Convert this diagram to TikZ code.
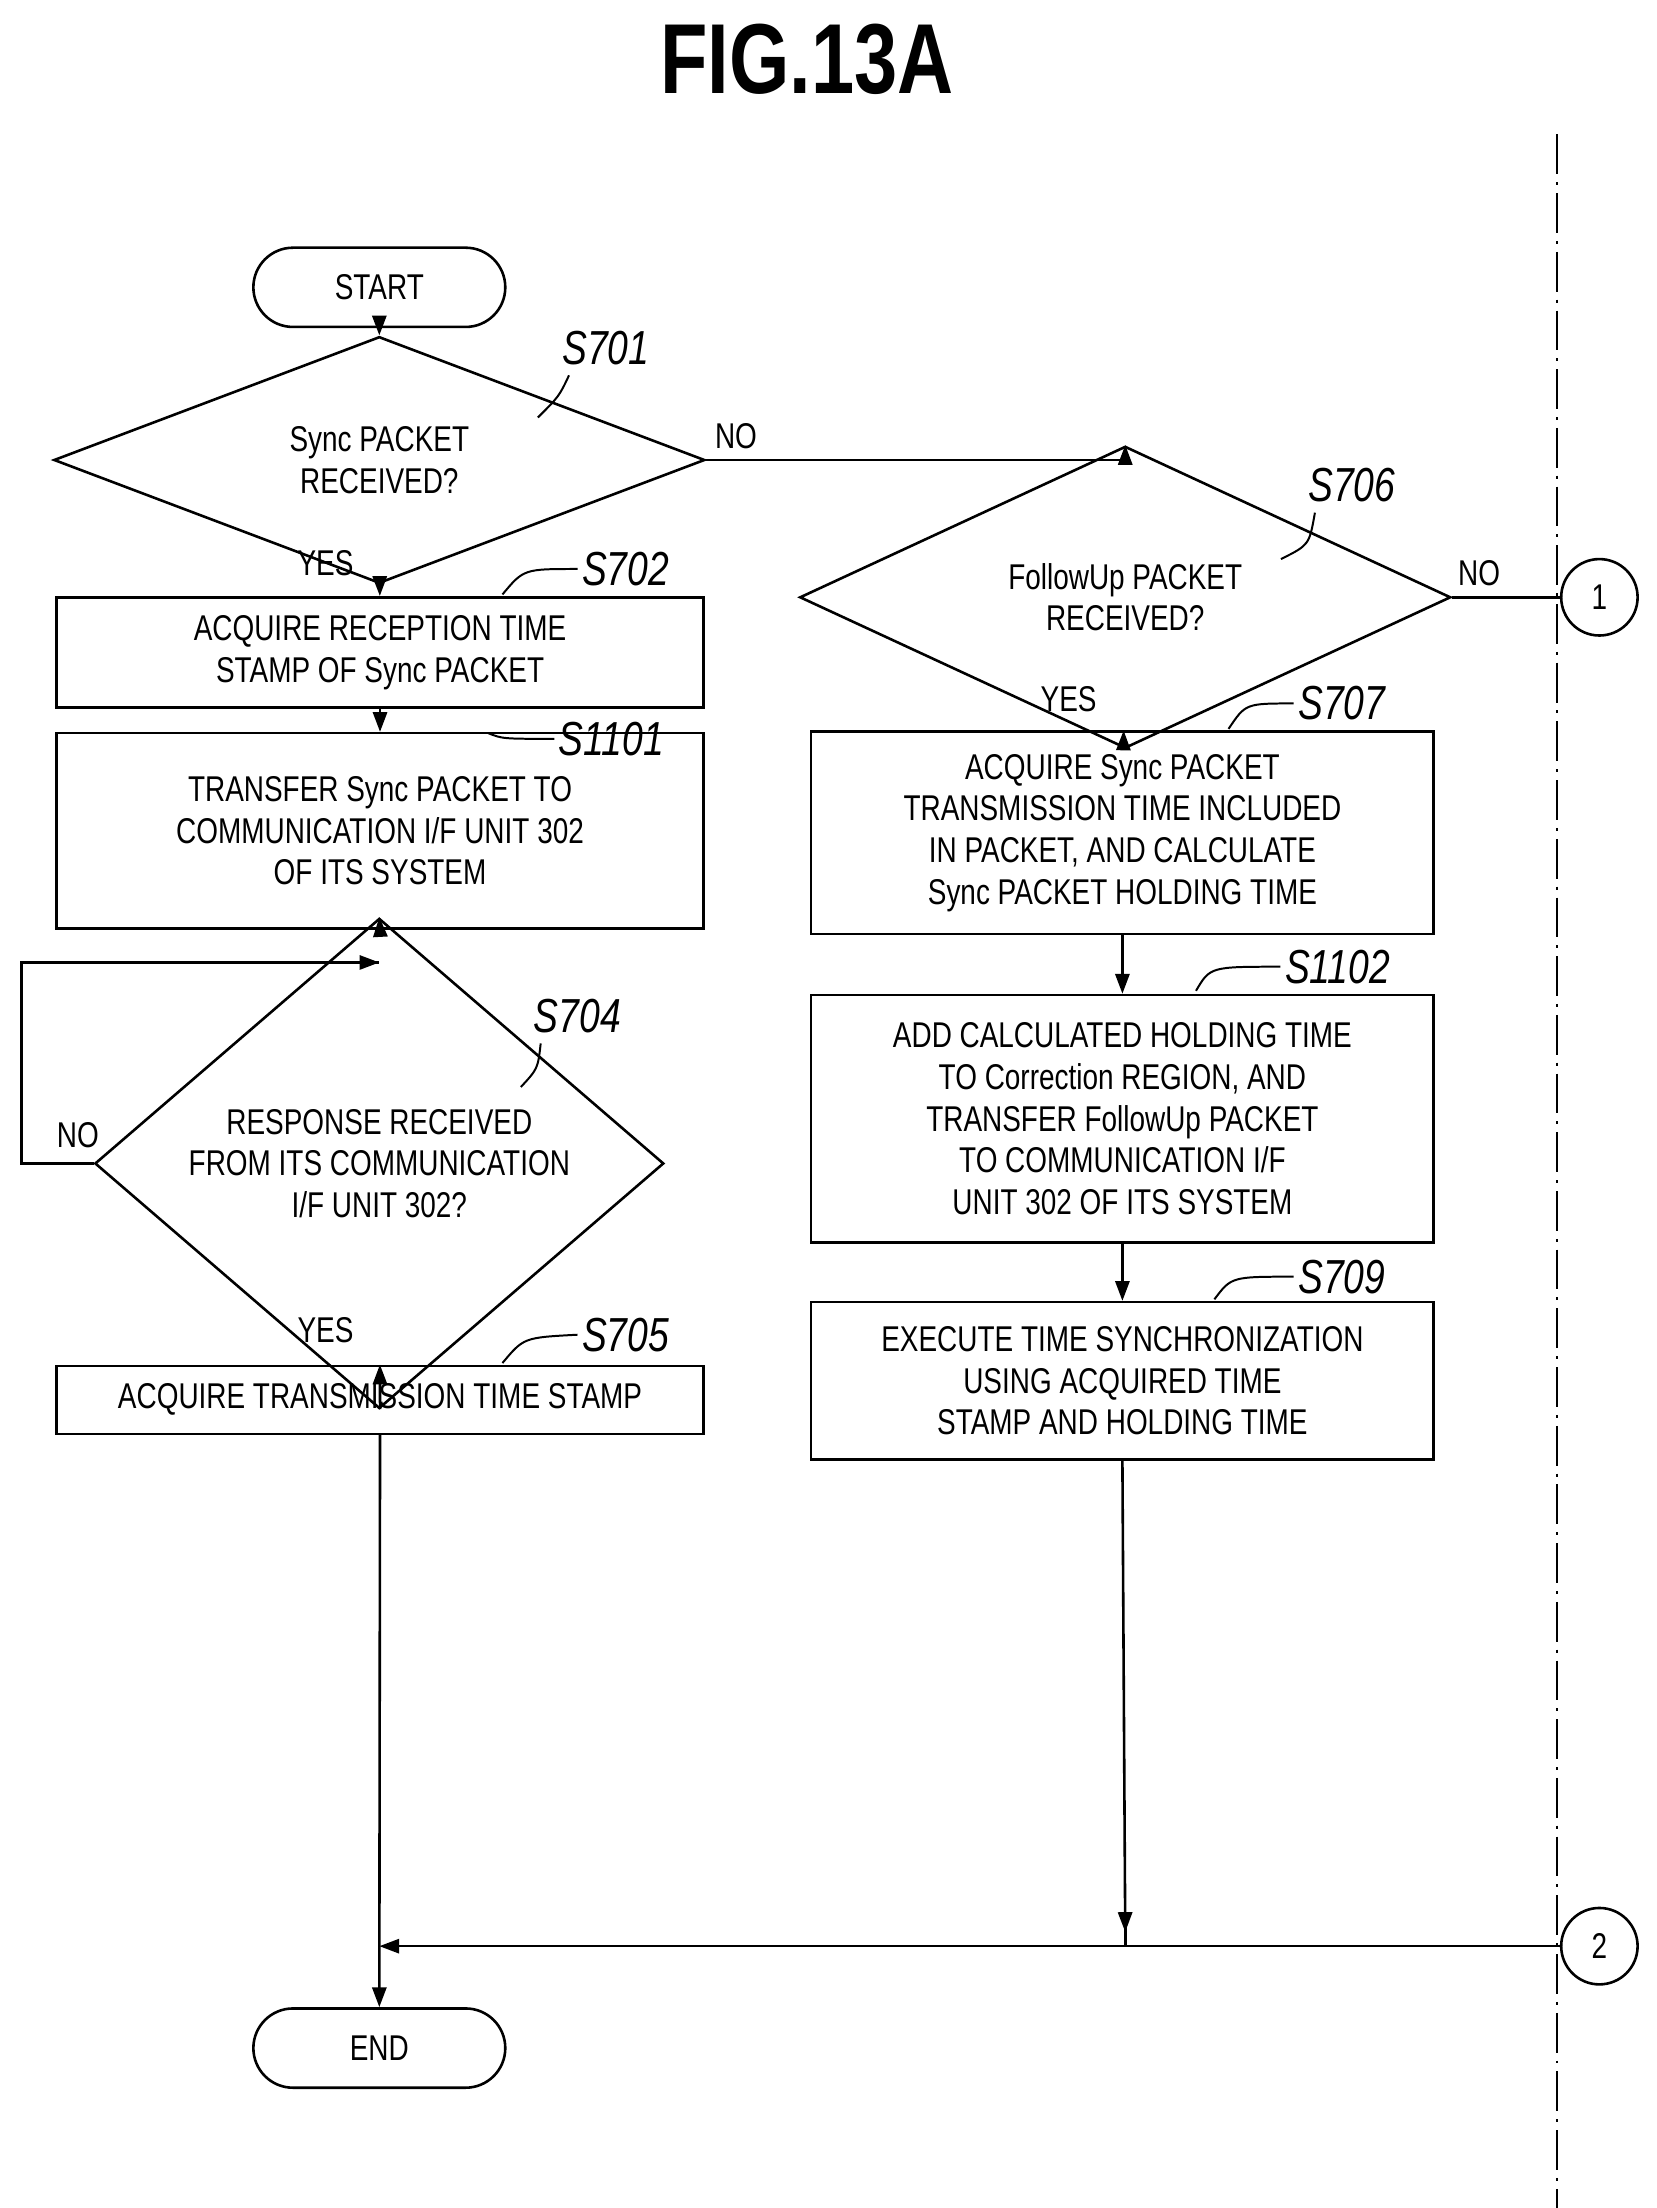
\documentclass[tikz,border=0pt]{standalone}
\usepackage{fontspec}
\setmainfont{Liberation Sans}[FakeStretch=0.78]
\usetikzlibrary{shapes.geometric,arrows.meta}
\begin{document}
\begin{tikzpicture}[x=0.05cm,y=-0.05cm,
  line width=2.6pt,
  txt/.style={font=\fontsize{36}{42}\selectfont,align=center},
  box/.style={draw,txt,inner sep=0pt},
  term/.style={draw,txt,rounded corners=1.4cm,minimum width=8.9cm,minimum height=2.8cm},
  dia/.style={draw,diamond,txt,inner sep=0pt},
  conn/.style={draw,circle,minimum size=2.7cm,txt,inner sep=0pt},
  lab/.style={font=\fontsize{48}{50}\selectfont\itshape},
  yn/.style={font=\fontsize{36}{40}\selectfont},
  arr/.style={-{Triangle[length=0.7cm,width=0.5cm]}},
  lead/.style={line width=2pt}]
\useasboundingbox (0,0) rectangle (1170,1560);
\node[font=\fontsize{100}{110}\selectfont\bfseries] (title) at (570,42) {FIG.13A};
\draw[dash pattern=on 40pt off 8pt on 3pt off 8pt,line width=2pt] (1100,95) -- (1100,1560);

\node[term] (start) at (268,203) {START};
\node[dia,minimum width=23cm,minimum height=5.2cm] (s701) at (268,325) {Sync PACKET\\RECEIVED?};
\node[box,minimum width=22.85cm,minimum height=3.9cm] (s702) at (268.5,461) {ACQUIRE RECEPTION TIME\\STAMP OF Sync PACKET};
\node[box,minimum width=22.85cm,minimum height=6.9cm] (s1101) at (268.5,587) {TRANSFER Sync PACKET TO\\COMMUNICATION I/F UNIT 302\\OF ITS SYSTEM};
\node[dia,minimum width=20.1cm,minimum height=9.65cm] (s704) at (268,822) {RESPONSE RECEIVED\\FROM ITS COMMUNICATION\\I/F UNIT 302?};
\node[box,minimum width=22.85cm,minimum height=2.4cm] (s705) at (268.5,989) {ACQUIRE TRANSMISSION TIME STAMP};
\node[term] (end) at (268,1447) {END};

\node[dia,minimum width=23cm,minimum height=5.2cm] (s706) at (795,422) {FollowUp PACKET\\RECEIVED?};
\node[box,minimum width=22cm,minimum height=7.15cm] (s707) at (793,588.5) {ACQUIRE Sync PACKET\\TRANSMISSION TIME INCLUDED\\IN PACKET, AND CALCULATE\\Sync PACKET HOLDING TIME};
\node[box,minimum width=22cm,minimum height=8.75cm] (s1102) at (793,790.5) {ADD CALCULATED HOLDING TIME\\TO Correction REGION, AND\\TRANSFER FollowUp PACKET\\TO COMMUNICATION I/F\\UNIT 302 OF ITS SYSTEM};
\node[box,minimum width=22cm,minimum height=5.55cm] (s709) at (793,975.5) {EXECUTE TIME SYNCHRONIZATION\\USING ACQUIRED TIME\\STAMP AND HOLDING TIME};

\node[conn] (c1) at (1130,422) {1};
\node[conn] (c2) at (1130,1375) {2};
\coordinate (j1) at (795,325);
\coordinate (j2) at (795,1375);
\coordinate (j3) at (268,1375);
\coordinate (l1) at (15,822);
\coordinate (l2) at (15,680);
\coordinate (l3) at (268,680);

\draw[arr] (start) -- (s701);
\draw[arr] (s701) -- (s702);
\draw[arr] (s702) -- (s1101);
\draw[arr] (s1101.south) -- (s704.north);
\draw (s704.west) -- (l1) -- (l2) -- (l3);
\draw[arr] (l2) -- (l3);
\draw[arr] (s704) -- (s705);
\draw[arr] (s705.south) -- (end.north);
\draw[arr] (s701.east) -- (j1) -- (s706.north);
\draw (s706.east) -- (c1.west);
\draw[arr] (s706) -- (s707);
\draw[arr] (s707) -- (s1102);
\draw[arr] (s1102) -- (s709);
\draw[arr] (s709.south) -- (795,1365);
\draw (795,1362) -- (j2);
\draw[arr] (c2.west) -- (j3);

\node[yn] (no1) at (520,308) {NO};
\node[yn] (no2) at (1045,405) {NO};
\node[yn] (no3) at (55,802) {NO};
\node[yn] (yes1) at (230,398) {YES};
\node[yn] (yes2) at (230,940) {YES};
\node[yn] (yes3) at (755,494) {YES};

\node[lab] (L701) at (428,246) {S701};
\draw[lead] (L701.south west) ++(8,4) .. controls (395,280) .. (380,295);
\node[lab] (L702) at (442,402) {S702};
\draw[lead] (L702.west) .. controls (370,402) .. (355,420);
\node[lab] (L1101) at (432,522) {S1101};
\draw[lead] (L1101.west) .. controls (355,522) .. (345,518);
\node[lab] (L704) at (408,718) {S704};
\draw[lead] (L704.south west) ++(8,4) .. controls (380,755) .. (368,768);
\node[lab] (L705) at (442,943) {S705};
\draw[lead] (L705.west) .. controls (370,945) .. (355,963);
\node[lab] (L706) at (955,343) {S706};
\draw[lead] (L706.south west) ++(8,4) .. controls (925,385) .. (905,395);
\node[lab] (L707) at (948,497) {S707};
\draw[lead] (L707.west) .. controls (880,497) .. (868,515);
\node[lab] (L1102) at (945,683) {S1102};
\draw[lead] (L1102.west) .. controls (855,683) .. (845,700);
\node[lab] (L709) at (948,902) {S709};
\draw[lead] (L709.west) .. controls (870,902) .. (858,918);
\end{tikzpicture}
\end{document}
